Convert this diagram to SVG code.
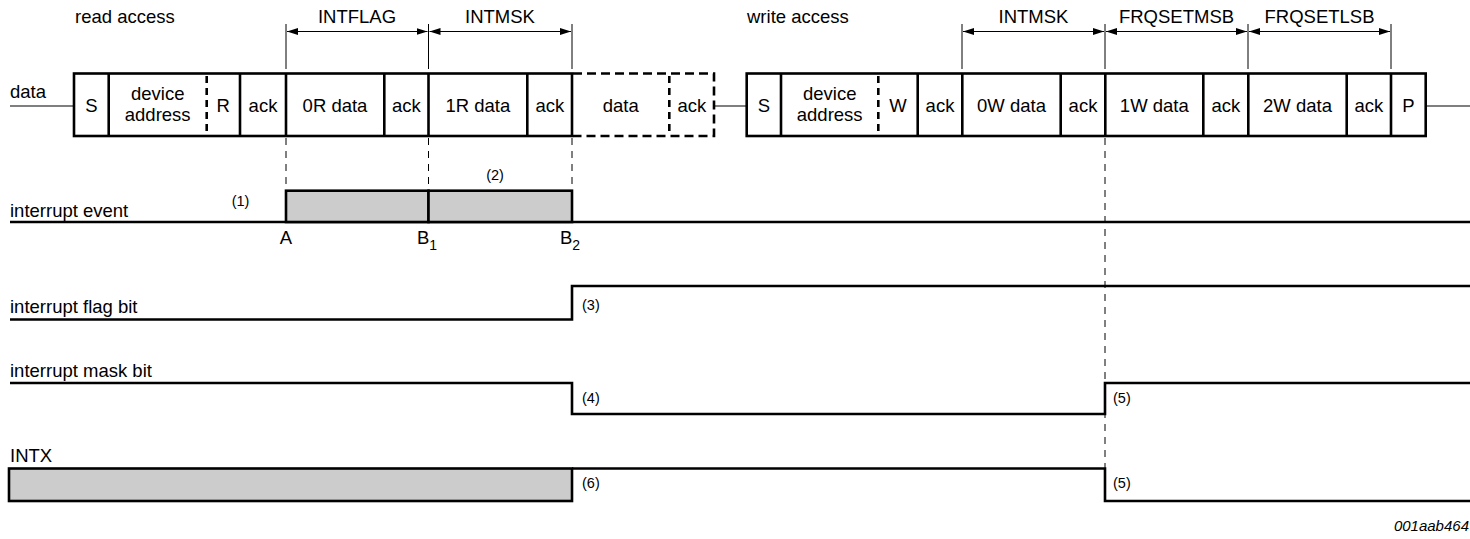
<svg xmlns="http://www.w3.org/2000/svg" width="1470" height="539" viewBox="0 0 1470 539">
<defs>
<marker id="arr" markerUnits="userSpaceOnUse" markerWidth="12" markerHeight="8" refX="11" refY="3.5" orient="auto-start-reverse">
<path d="M0,0 L11,3.5 L0,7 z" fill="#000"/>
</marker>
<style>
text{font-family:"Liberation Sans",Arial,sans-serif;fill:#000}
.t{font-size:18.5px}
.c{text-anchor:middle}
.n{font-size:14.5px}
.box{fill:none;stroke:#000;stroke-width:2.6}
.dbox{fill:none;stroke:#000;stroke-width:2.6;stroke-dasharray:9 5}
.thin{fill:none;stroke:#000;stroke-width:1.2}
.dim{fill:none;stroke:#000;stroke-width:1}
.guide{fill:none;stroke:#000;stroke-width:1;stroke-dasharray:7 6}
.sig{fill:none;stroke:#000;stroke-width:2.6}
.grey{fill:#cccccc;stroke:#000;stroke-width:2.6}
</style>
</defs>
<rect width="1470" height="539" fill="#fff"/>

<g id="labels">
<text class="t" x="75" y="23">read access</text>
<text class="t" x="747" y="23">write access</text>
<text class="t" x="10" y="98">data</text>
<text class="t" x="10" y="217">interrupt event</text>
<text class="t" x="10" y="313">interrupt flag bit</text>
<text class="t" x="10" y="377">interrupt mask bit</text>
<text class="t" x="10" y="462">INTX</text>
<text x="1469" y="531" style="font-size:15px;font-style:italic;text-anchor:end">001aab464</text>
</g>

<g id="dimensions">
<line class="dim" x1="286" y1="24" x2="286" y2="69"/>
<line class="dim" x1="428.5" y1="24" x2="428.5" y2="69"/>
<line class="dim" x1="572" y1="24" x2="572" y2="69"/>
<line class="dim" x1="962" y1="24" x2="962" y2="69"/>
<line class="dim" x1="1105" y1="24" x2="1105" y2="69"/>
<line class="dim" x1="1248" y1="24" x2="1248" y2="69"/>
<line class="dim" x1="1391" y1="24" x2="1391" y2="69"/>
<line class="dim" x1="287" y1="31.5" x2="427.5" y2="31.5" marker-start="url(#arr)" marker-end="url(#arr)"/>
<line class="dim" x1="429.5" y1="31.5" x2="571" y2="31.5" marker-start="url(#arr)" marker-end="url(#arr)"/>
<line class="dim" x1="963" y1="31.5" x2="1104" y2="31.5" marker-start="url(#arr)" marker-end="url(#arr)"/>
<line class="dim" x1="1106" y1="31.5" x2="1247" y2="31.5" marker-start="url(#arr)" marker-end="url(#arr)"/>
<line class="dim" x1="1249" y1="31.5" x2="1390" y2="31.5" marker-start="url(#arr)" marker-end="url(#arr)"/>
<text class="t c" x="357" y="23">INTFLAG</text>
<text class="t c" x="500" y="23">INTMSK</text>
<text class="t c" x="1033.5" y="23">INTMSK</text>
<text class="t c" x="1176.5" y="23">FRQSETMSB</text>
<text class="t c" x="1319.5" y="23">FRQSETLSB</text>
</g>

<g id="connectors">
<line class="thin" x1="10" y1="106" x2="74" y2="106"/>
<line class="thin" x1="714" y1="106" x2="747" y2="106"/>
<line class="thin" x1="1426" y1="106" x2="1470" y2="106"/>
<line class="guide" x1="286" y1="138" x2="286" y2="190"/>
<line class="guide" x1="428.5" y1="138" x2="428.5" y2="190"/>
<line class="guide" x1="572" y1="138" x2="572" y2="190"/>
<line class="guide" x1="1105" y1="138" x2="1105" y2="468"/>
</g>

<g id="read-frame">
<rect class="box" x="74" y="73.5" width="498" height="62.5"/>
<line class="box" x1="108.7" y1="73.5" x2="108.7" y2="136"/>
<line class="dbox" x1="206.7" y1="76" x2="206.7" y2="136" style="stroke-dasharray:7 5"/>
<line class="box" x1="240" y1="73.5" x2="240" y2="136"/>
<line class="box" x1="286" y1="73.5" x2="286" y2="136"/>
<line class="box" x1="384.3" y1="73.5" x2="384.3" y2="136"/>
<line class="box" x1="428.5" y1="73.5" x2="428.5" y2="136"/>
<line class="box" x1="527.3" y1="73.5" x2="527.3" y2="136"/>
<text class="t c" x="91.3" y="112">S</text>
<text class="t c" x="157.7" y="100">device</text>
<text class="t c" x="157.7" y="121">address</text>
<text class="t c" x="223.3" y="112">R</text>
<text class="t c" x="263" y="112">ack</text>
<text class="t c" x="335" y="112">0R data</text>
<text class="t c" x="406.3" y="112">ack</text>
<text class="t c" x="477.8" y="112">1R data</text>
<text class="t c" x="549.8" y="112">ack</text>
</g>

<g id="optional-data">
<path class="dbox" d="M573,73.5 H714 V136 H573"/>
<line class="dbox" x1="669.3" y1="76" x2="669.3" y2="136" style="stroke-dasharray:7 5"/>
<text class="t c" x="620.8" y="112">data</text>
<text class="t c" x="691.8" y="112">ack</text>
</g>

<g id="write-frame">
<rect class="box" x="746.7" y="73.5" width="679" height="62.5"/>
<line class="box" x1="781" y1="73.5" x2="781" y2="136"/>
<line class="dbox" x1="878.3" y1="76" x2="878.3" y2="136" style="stroke-dasharray:7 5"/>
<line class="box" x1="917.7" y1="73.5" x2="917.7" y2="136"/>
<line class="box" x1="962.3" y1="73.5" x2="962.3" y2="136"/>
<line class="box" x1="1060.7" y1="73.5" x2="1060.7" y2="136"/>
<line class="box" x1="1105.3" y1="73.5" x2="1105.3" y2="136"/>
<line class="box" x1="1203.3" y1="73.5" x2="1203.3" y2="136"/>
<line class="box" x1="1248.3" y1="73.5" x2="1248.3" y2="136"/>
<line class="box" x1="1346.7" y1="73.5" x2="1346.7" y2="136"/>
<line class="box" x1="1391" y1="73.5" x2="1391" y2="136"/>
<text class="t c" x="763.8" y="112">S</text>
<text class="t c" x="829.7" y="100">device</text>
<text class="t c" x="829.7" y="121">address</text>
<text class="t c" x="898" y="112">W</text>
<text class="t c" x="940" y="112">ack</text>
<text class="t c" x="1011.5" y="112">0W data</text>
<text class="t c" x="1083" y="112">ack</text>
<text class="t c" x="1154.3" y="112">1W data</text>
<text class="t c" x="1225.8" y="112">ack</text>
<text class="t c" x="1297.5" y="112">2W data</text>
<text class="t c" x="1368.8" y="112">ack</text>
<text class="t c" x="1408.3" y="112">P</text>
</g>

<g id="interrupt-event">
<line class="sig" x1="10" y1="222" x2="1470" y2="222"/>
<rect class="grey" x="286" y="190.7" width="142.5" height="31.3"/>
<rect class="grey" x="428.5" y="190.7" width="143.5" height="31.3"/>
<text class="n c" x="240.5" y="206">(1)</text>
<text class="n c" x="495" y="180">(2)</text>
<text class="t c" x="286" y="244">A</text>
<text class="t" x="417" y="244">B<tspan style="font-size:14px" dy="6">1</tspan></text>
<text class="t" x="560" y="244">B<tspan style="font-size:14px" dy="6">2</tspan></text>
</g>

<g id="interrupt-flag-bit">
<path class="sig" d="M10,319.5 H572 V286 H1470"/>
<text class="n" x="582" y="310">(3)</text>
</g>

<g id="interrupt-mask-bit">
<path class="sig" d="M10,383 H572 V414 H1105 V383 H1470"/>
<text class="n" x="582" y="403">(4)</text>
<text class="n" x="1113" y="403">(5)</text>
</g>

<g id="intx">
<rect class="grey" x="9" y="468.5" width="563" height="32.5"/>
<path class="sig" d="M572,468.5 H1105 V501 H1470"/>
<text class="n" x="582" y="488">(6)</text>
<text class="n" x="1113" y="488">(5)</text>
</g>
</svg>
